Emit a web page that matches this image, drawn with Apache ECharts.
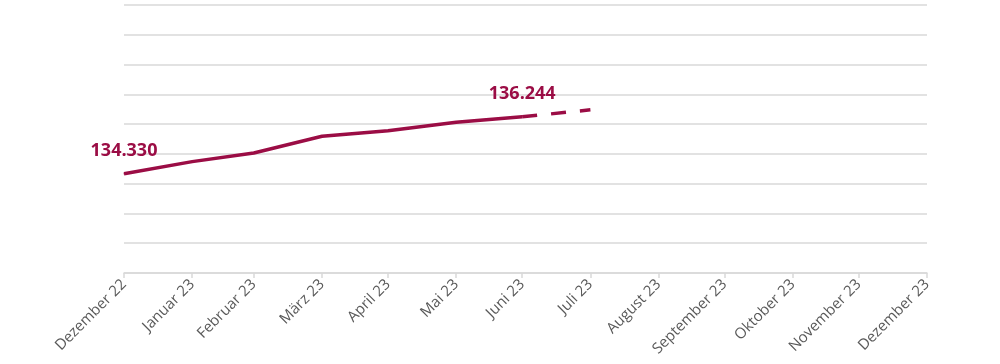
<!DOCTYPE html>
<html><head><meta charset="utf-8">
<script src="https://cdn.jsdelivr.net/npm/echarts@6/dist/echarts.min.js"></script>
<style>html,body{margin:0;padding:0;background:#fff}#c{width:1000px;height:364px}</style>
</head><body><div id="c"></div>
<script>
// Month-end dates (year, monthIndex, day) and German labels
var tickDates = [[2022,11,31],[2023,0,31],[2023,1,28],[2023,2,31],[2023,3,30],[2023,4,31],[2023,5,30],[2023,6,31],[2023,7,31],[2023,8,30],[2023,9,31],[2023,10,30],[2023,11,31]];
var tickLabels = ['Dezember 22','Januar 23','Februar 23','März 23','April 23','Mai 23','Juni 23','Juli 23','August 23','September 23','Oktober 23','November 23','Dezember 23'];
// Actual values (Dez 22 .. Juni 23)
var actualValues = [134330, 134740, 135030, 135590, 135780, 136060, 136244];
// Forecast segment (Juni 23 .. Juli 23)
var forecastValues = [136244, 136480];
var labelIndices = [0, 6];

var DAY = 86400000;
var ts = tickDates.map(function(d){ return Date.UTC(d[0], d[1], d[2]) / DAY; });
function fmt(v){ var s = String(Math.round(v)); return s.replace(/\B(?=(\d{3})+(?!\d))/g, '.'); }
var color = '#9B0D45';
var actualData = actualValues.map(function(v, i){
  var item = { value: [ts[i], v] };
  if (labelIndices.indexOf(i) >= 0) item.label = { show: true };
  return item;
});
var forecastData = forecastValues.map(function(v, i){ return { value: [ts[6 + i], v] }; });

var chart = echarts.init(document.getElementById('c'), null, { renderer: 'canvas' });
chart.setOption({
  animation: false,
  grid: { left: 124, right: 73, top: 5, bottom: 91, containLabel: false },
  xAxis: {
    type: 'value',
    min: ts[0], max: ts[ts.length - 1],
    splitLine: { show: false },
    axisLine: { show: true, lineStyle: { color: '#D9D9D9', width: 1.5 } },
    axisTick: { show: true, customValues: ts, length: 5, lineStyle: { color: '#D9D9D9', width: 1.5 } },
    axisLabel: {
      customValues: ts, rotate: 45, margin: 9,
      color: '#595959', fontFamily: 'Open Sans', fontSize: 15,
      formatter: function (val) {
        var best = 0, bd = Infinity;
        for (var i = 0; i < ts.length; i++) { var d = Math.abs(ts[i] - val); if (d < bd) { bd = d; best = i; } }
        return tickLabels[best];
      }
    }
  },
  yAxis: {
    type: 'value', min: 131000, max: 140000, interval: 1000,
    axisLine: { show: false }, axisTick: { show: false }, axisLabel: { show: false },
    splitLine: { show: true, lineStyle: { color: '#D9D9D9', width: 1.5 } }
  },
  series: [
    {
      type: 'line', data: actualData, symbol: 'circle', symbolSize: 1,
      itemStyle: { color: color },
      lineStyle: { color: color, width: 3.5 },
      label: { show: false, position: 'top', distance: 13, color: color, fontFamily: 'Open Sans', fontWeight: 'bold', fontSize: 18, formatter: function (p) { return fmt(p.value[1]); } },
      z: 3
    },
    {
      type: 'line', data: forecastData, symbol: 'none',
      lineStyle: { color: color, width: 3.5, type: [15, 14], cap: 'butt' },
      z: 2
    }
  ]
});
</script></body></html>
